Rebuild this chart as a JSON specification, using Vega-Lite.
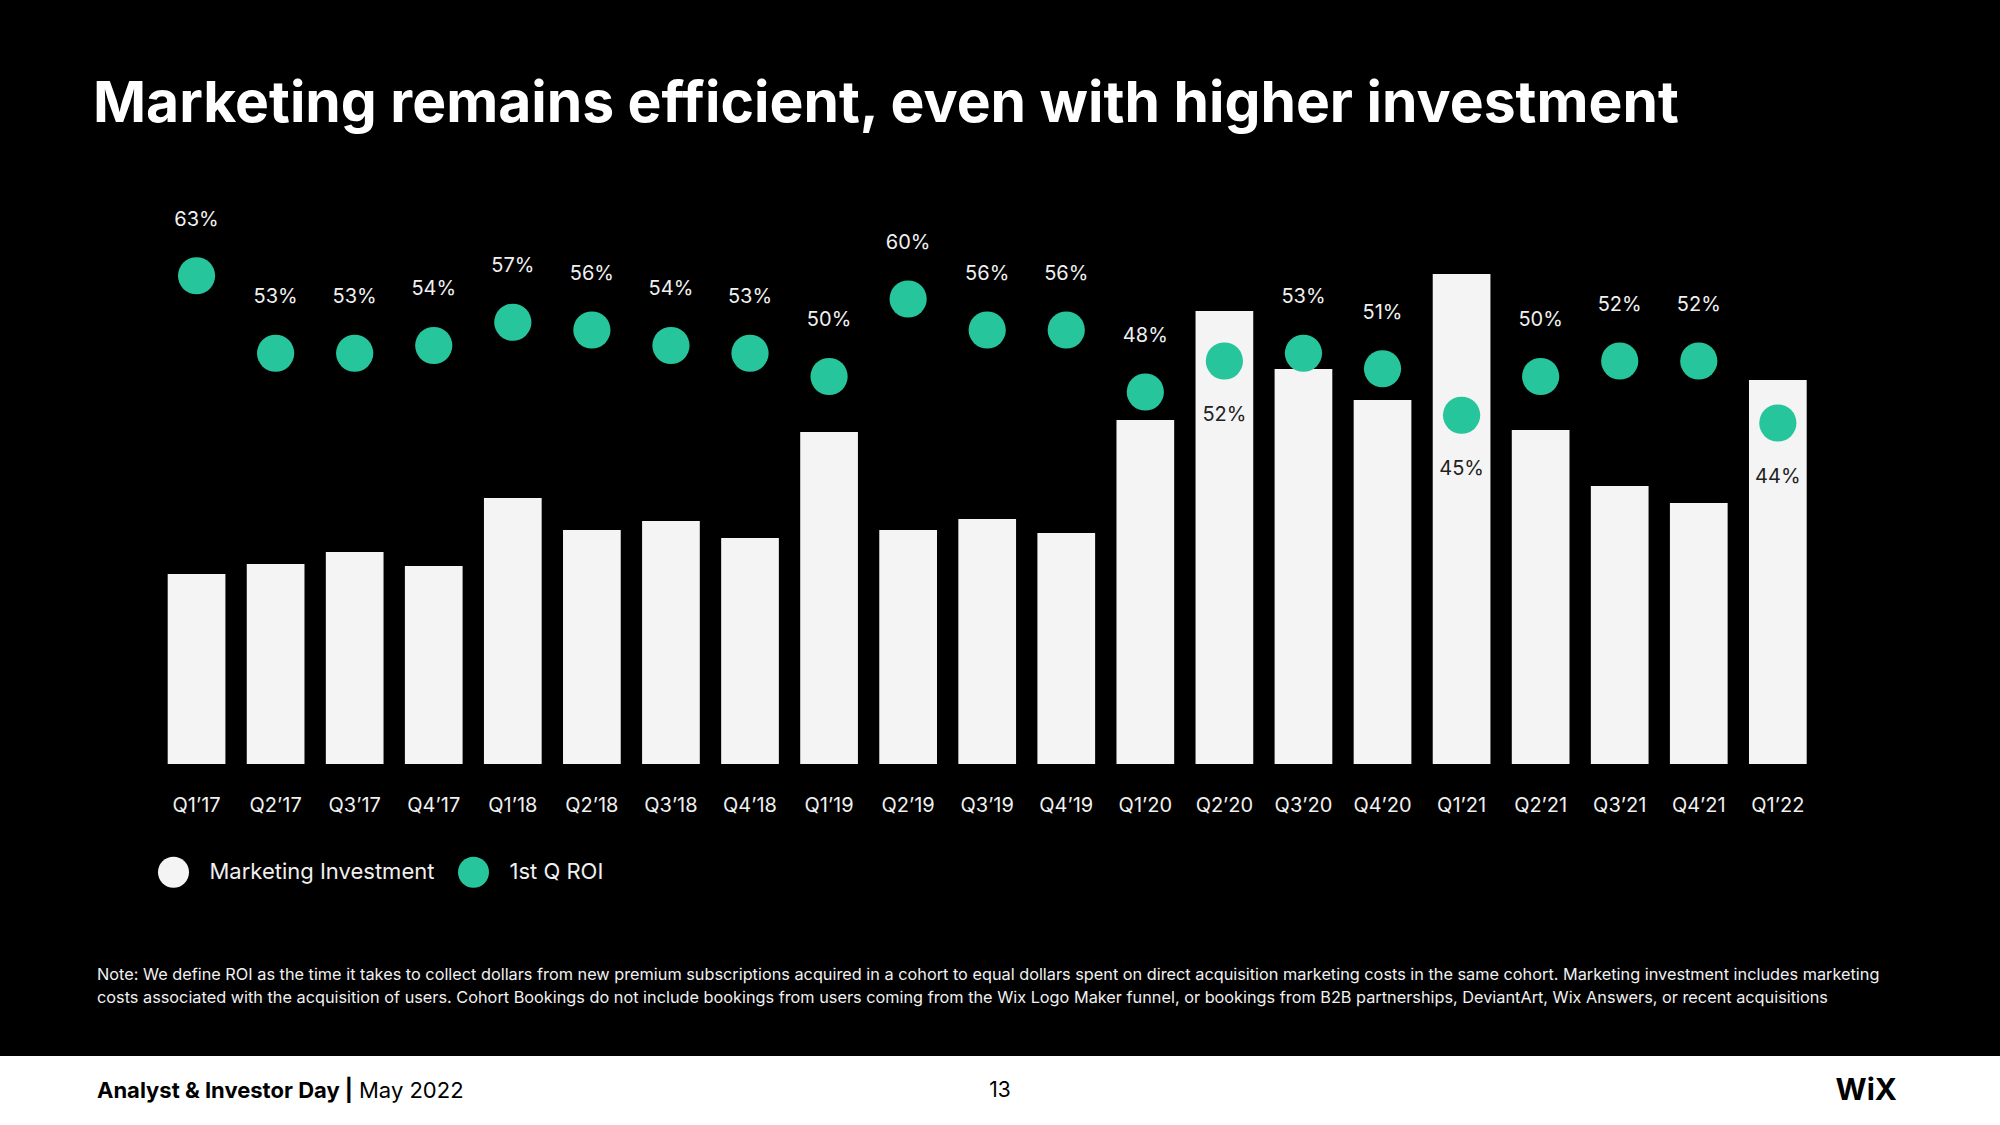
{
  "$schema": "https://vega.github.io/schema/vega-lite/v6.json",
  "background": "#000000",
  "padding": {"top": 76, "left": 0, "right": 0, "bottom": 0},
  "bounds": "flush",
  "spacing": 292,
  "title": {
    "text": "Marketing remains efficient, even with higher investment",
    "anchor": "start",
    "frame": "group",
    "dx": 93,
    "offset": 0,
    "fontSize": 57,
    "font": "Inter",
    "fontWeight": "bold",
    "color": "#ffffff",
    "baseline": "top"
  },
  "config": {
    "view": {"stroke": null},
    "font": "Inter"
  },
  "datasets": {
    "quarters": [
      {"quarter": "Q1’17", "investment": 190, "roi": 0.63},
      {"quarter": "Q2’17", "investment": 200, "roi": 0.53},
      {"quarter": "Q3’17", "investment": 212, "roi": 0.53},
      {"quarter": "Q4’17", "investment": 198, "roi": 0.54},
      {"quarter": "Q1’18", "investment": 266, "roi": 0.57},
      {"quarter": "Q2’18", "investment": 234, "roi": 0.56},
      {"quarter": "Q3’18", "investment": 243, "roi": 0.54},
      {"quarter": "Q4’18", "investment": 226, "roi": 0.53},
      {"quarter": "Q1’19", "investment": 332, "roi": 0.50},
      {"quarter": "Q2’19", "investment": 234, "roi": 0.60},
      {"quarter": "Q3’19", "investment": 245, "roi": 0.56},
      {"quarter": "Q4’19", "investment": 231, "roi": 0.56},
      {"quarter": "Q1’20", "investment": 344, "roi": 0.48},
      {"quarter": "Q2’20", "investment": 453, "roi": 0.52},
      {"quarter": "Q3’20", "investment": 395, "roi": 0.53},
      {"quarter": "Q4’20", "investment": 364, "roi": 0.51},
      {"quarter": "Q1’21", "investment": 490, "roi": 0.45},
      {"quarter": "Q2’21", "investment": 334, "roi": 0.50},
      {"quarter": "Q3’21", "investment": 278, "roi": 0.52},
      {"quarter": "Q4’21", "investment": 261, "roi": 0.52},
      {"quarter": "Q1’22", "investment": 384, "roi": 0.44}
    ],
    "footer": [
      {"slot": "left", "part": "event", "label": "Analyst & Investor Day  |"},
      {"slot": "left", "part": "date", "label": "May 2022"},
      {"slot": "center", "part": "page", "label": "13"},
      {"slot": "right", "part": "logo", "label": "WiX"}
    ]
  },
  "vconcat": [
    {
      "width": 2000,
      "height": 630,
      "data": {"name": "quarters"},
      "title": {
        "text": [
          "Note: We define ROI as the time it takes to collect dollars from new premium subscriptions acquired in a cohort to equal dollars spent on direct acquisition marketing costs in the same cohort. Marketing investment includes marketing",
          "costs associated with the acquisition of users. Cohort Bookings do not include bookings from users coming from the Wix Logo Maker funnel, or bookings from B2B partnerships, DeviantArt, Wix Answers, or recent acquisitions"
        ],
        "orient": "bottom",
        "anchor": "start",
        "frame": "group",
        "dx": 97,
        "offset": 152,
        "fontSize": 16.3,
        "lineHeight": 23,
        "fontWeight": "normal",
        "font": "Inter",
        "color": "#f0f0f0"
      },
      "resolve": {"scale": {"y": "independent"}},
      "encoding": {
        "x": {
          "field": "quarter",
          "type": "nominal",
          "sort": null,
          "scale": {"range": [167.7, 1806.7], "paddingInner": 0.27, "paddingOuter": 0},
          "axis": {
            "title": null,
            "domain": false,
            "ticks": false,
            "labelAngle": 0,
            "labelFontSize": 20,
            "labelFont": "Inter",
            "labelColor": "#f0f0f0",
            "labelPadding": 31,
            "grid": false
          }
        }
      },
      "layer": [
        {
          "mark": {"type": "bar", "opacity": 1},
          "encoding": {
            "y": {"field": "investment", "type": "quantitative", "scale": {"domain": [0, 630]}, "axis": null},
            "color": {
              "datum": "Marketing Investment",
              "type": "nominal",
              "scale": {"domain": ["Marketing Investment", "1st Q ROI"], "range": ["#f4f4f4", "#26c59c"]},
              "legend": {
                "orient": "none",
                "legendX": 157.5,
                "legendY": 722,
                "direction": "horizontal",
                "title": null,
                "symbolType": "circle",
                "symbolSize": 962,
                "symbolStrokeWidth": 0,
                "symbolOpacity": 1,
                "labelFontSize": 22,
                "labelFont": "Inter",
                "labelColor": "#f0f0f0",
                "labelOffset": 20,
                "labelLimit": 500,
                "columnPadding": 23,
                "padding": 0
              }
            }
          }
        },
        {
          "mark": {"type": "point", "filled": true, "size": 1385, "opacity": 1, "shape": "circle"},
          "encoding": {
            "y": {"field": "roi", "type": "quantitative", "scale": {"domain": [0, 0.8129]}, "axis": null},
            "color": {"datum": "1st Q ROI", "type": "nominal"}
          }
        },
        {
          "transform": [{"filter": {"not": {"field": "quarter", "oneOf": ["Q2’20", "Q1’21", "Q1’22"]}}}],
          "mark": {"type": "text", "dy": -56, "fontSize": 20, "font": "Inter", "color": "#f0f0f0", "baseline": "middle"},
          "encoding": {
            "y": {"field": "roi", "type": "quantitative", "scale": {"domain": [0, 0.8129]}, "axis": null},
            "text": {"field": "roi", "type": "quantitative", "format": ".0%"}
          }
        },
        {
          "transform": [{"filter": {"field": "quarter", "oneOf": ["Q2’20", "Q1’21", "Q1’22"]}}],
          "mark": {"type": "text", "dy": 54, "fontSize": 20, "font": "Inter", "color": "#222222", "baseline": "middle"},
          "encoding": {
            "y": {"field": "roi", "type": "quantitative", "scale": {"domain": [0, 0.8129]}, "axis": null},
            "text": {"field": "roi", "type": "quantitative", "format": ".0%"}
          }
        }
      ]
    },
    {
      "width": 2000,
      "height": 69,
      "view": {"fill": "#ffffff", "stroke": null},
      "data": {"name": "footer"},
      "encoding": {
        "x": {"field": "slot", "type": "nominal", "scale": {"type": "point", "domain": ["left", "center", "right"], "padding": 0}, "axis": null}
      },
      "layer": [
        {
          "transform": [{"filter": "datum.part == 'event'"}],
          "mark": {"type": "text", "align": "left", "dx": 97, "fontSize": 22, "fontWeight": "bold", "font": "Inter", "color": "#000000", "baseline": "middle"},
          "encoding": {"text": {"field": "label"}}
        },
        {
          "transform": [{"filter": "datum.part == 'date'"}],
          "mark": {"type": "text", "align": "left", "dx": 359, "fontSize": 22, "font": "Inter", "color": "#000000", "baseline": "middle"},
          "encoding": {"text": {"field": "label"}}
        },
        {
          "transform": [{"filter": "datum.part == 'page'"}],
          "mark": {"type": "text", "align": "center", "fontSize": 21, "font": "Inter", "color": "#000000", "baseline": "middle"},
          "encoding": {"text": {"field": "label"}}
        },
        {
          "transform": [{"filter": "datum.part == 'logo'"}],
          "mark": {"type": "text", "align": "right", "dx": -103, "fontSize": 30, "fontWeight": "bold", "font": "Inter", "color": "#000000", "baseline": "middle"},
          "encoding": {"text": {"field": "label"}}
        }
      ]
    }
  ]
}
